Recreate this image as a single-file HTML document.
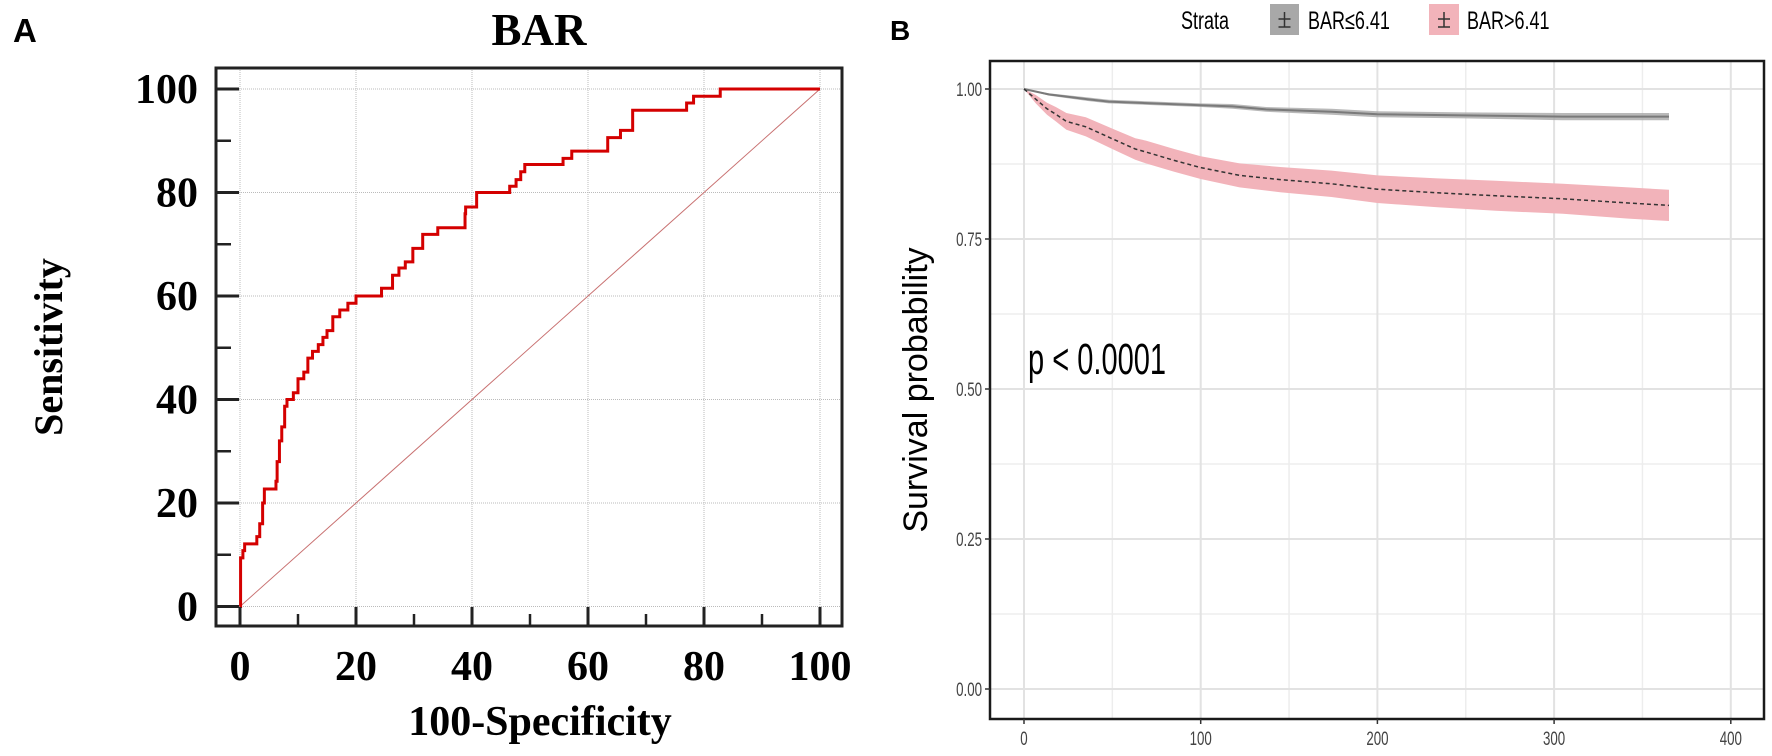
<!DOCTYPE html>
<html><head><meta charset="utf-8"><style>
html,body{margin:0;padding:0;background:#fff;}
svg{display:block;}
</style></head><body>
<svg id="fig" width="1772" height="756" viewBox="0 0 1772 756" xmlns="http://www.w3.org/2000/svg">
  <rect x="0" y="0" width="1772" height="756" fill="#fff"/>
  <text x="13" y="42" font-family="Liberation Sans, sans-serif" font-weight="bold" font-size="33">A</text>
  <text x="539" y="45" text-anchor="middle" font-family="Liberation Serif, serif" font-weight="bold" font-size="45">BAR</text>
  <g id="roc"></g>
  <text x="890" y="40" font-family="Liberation Sans, sans-serif" font-weight="bold" font-size="28">B</text>
  <g id="km"></g>
</svg>
<script>
// ROC data
const rocFpr = [0,0.1,0.5,0.8,2.9,3.4,3.9,4.2,6.2,6.4,6.8,7.2,7.7,8.1,9.2,10,11,11.7,12.5,13.5,14.3,15,16,17.2,18.6,20,24.4,26.3,27.4,28.5,29.8,31.5,34.1,38.8,38.9,40.8,46.5,47.6,48.4,49.1,55.7,57.2,63.4,65.6,67.7,77,78.2,82.8,100];
const rocTpr = [0,9.4,10.8,12.1,13.5,16,20,22.7,24.2,28,32,34.7,38.7,40,41.3,44,45.3,48,49.3,50.6,52,53.3,56,57.3,58.6,60,61.5,64,65.4,66.6,69.2,71.9,73.2,75.9,77.2,80,81.2,82.5,84,85.4,86.6,88,90.6,92,95.9,97.3,98.6,100,100];
const rocTicks = [0,20,40,60,80,100];
const rocMinor = [10,30,50,70,90];

// KM data
const grayT = [0,14,36,48,100,118,137,174,200,249,305,365];
const grayS = [1,0.991,0.983,0.979,0.973,0.971,0.966,0.962,0.958,0.956,0.954,0.954];
const grayLo = [1,0.989,0.980,0.976,0.970,0.967,0.962,0.957,0.953,0.951,0.948,0.948];
const grayHi = [1,0.993,0.986,0.982,0.976,0.975,0.970,0.967,0.963,0.961,0.960,0.960];
const pinkT = [0,6.7,13,18,24,35,50,63,69,85,100,122,145,174,200,234,267,305,342,365];
const pinkS = [1,0.983,0.967,0.958,0.946,0.937,0.917,0.9,0.895,0.881,0.869,0.856,0.849,0.842,0.833,0.827,0.822,0.817,0.81,0.806];
const pinkLo = [1,0.976,0.957,0.946,0.932,0.921,0.900,0.882,0.876,0.862,0.850,0.836,0.828,0.820,0.810,0.803,0.797,0.792,0.784,0.780];
const pinkHi = [1,0.990,0.977,0.970,0.960,0.953,0.934,0.918,0.914,0.900,0.888,0.876,0.870,0.864,0.856,0.851,0.847,0.842,0.836,0.832];
const kmXTicks = [0,100,200,300,400];
const kmXMinor = [50,150,250,350];
const kmYTicks = [0,0.25,0.5,0.75,1];
const kmYLabels = ["0.00","0.25","0.50","0.75","1.00"];
const kmYMinor = [0.125,0.375,0.625,0.875];

const NS = "http://www.w3.org/2000/svg";
function mk(parent, tag, attrs){const e=document.createElementNS(NS,tag);for(const k in attrs)e.setAttribute(k,attrs[k]);parent.appendChild(e);return e;}

// ---- ROC ----
(function(){
  const g = document.getElementById('roc');
  const X = v => 240 + v*5.8;
  const Y = v => 606.5 - v*5.175;
  rocTicks.forEach(t=>{
    const l1=mk(g,'line',{x1:X(t),x2:X(t),y1:70,y2:625,stroke:'#bbb','stroke-width':1,'stroke-dasharray':'1 1'});
    
    
    const l2=mk(g,'line',{x1:217,x2:841,y1:Y(t),y2:Y(t),stroke:'#bbb','stroke-width':1,'stroke-dasharray':'1 1'});
    
    
  });
  const diag=mk(g,'line',{x1:X(0),y1:Y(0),x2:X(100),y2:Y(100),stroke:'#c87070','stroke-width':1});
  
  
  let d='M'+X(rocFpr[0])+','+Y(rocTpr[0]);
  for(let i=1;i<rocFpr.length;i++){d+=' H'+X(rocFpr[i])+' V'+Y(rocTpr[i]);}
  const roc=mk(g,'path',{d:d,fill:'none',stroke:'#d40000','stroke-width':3});
  
  
  const fr=mk(g,'rect',{x:216,y:68,width:626,height:558,fill:'none',stroke:'#222','stroke-width':3});
  
  
  rocTicks.forEach(t=>{
    mk(g,'line',{x1:216,x2:239,y1:Y(t),y2:Y(t),stroke:'#222','stroke-width':3});
    mk(g,'line',{x1:X(t),x2:X(t),y1:626,y2:607,stroke:'#222','stroke-width':3});
    const ty=mk(g,'text',{x:198,y:Y(t)+14,'text-anchor':'end','font-family':'Liberation Serif, serif','font-weight':'bold','font-size':42});
    ty.textContent=t;
    
    
    const tx=mk(g,'text',{x:X(t),y:680,'text-anchor':'middle','font-family':'Liberation Serif, serif','font-weight':'bold','font-size':42});
    tx.textContent=t;
    
    
  });
  rocMinor.forEach(t=>{
    mk(g,'line',{x1:216,x2:231,y1:Y(t),y2:Y(t),stroke:'#222','stroke-width':2.5});
    mk(g,'line',{x1:X(t),x2:X(t),y1:626,y2:614,stroke:'#222','stroke-width':2.5});
  });
  const xt=mk(g,'text',{x:540,y:735,'text-anchor':'middle','font-family':'Liberation Serif, serif','font-weight':'bold','font-size':42});
  xt.textContent='100-Specificity';
  
  
  const yt=mk(g,'text',{x:0,y:0,transform:'translate(62,347) rotate(-90)','text-anchor':'middle','font-family':'Liberation Serif, serif','font-weight':'bold','font-size':40});
  yt.textContent='Sensitivity';
  
  
})();

// ---- KM ----
(function(){
  const g = document.getElementById('km');
  const X = v => 1024 + v*1.767;
  const Y = v => 689 - v*600;
  kmYMinor.forEach(t=>mk(g,'line',{x1:990,x2:1764,y1:Y(t),y2:Y(t),stroke:'#ededed','stroke-width':1.5}));
  kmXMinor.forEach(t=>mk(g,'line',{x1:X(t),x2:X(t),y1:61,y2:719,stroke:'#ededed','stroke-width':1.5}));
  kmYTicks.forEach(t=>{
    const l=mk(g,'line',{x1:990,x2:1764,y1:Y(t),y2:Y(t),stroke:'#e2e2e2','stroke-width':2});
    
    
  });
  kmXTicks.forEach(t=>{
    const l=mk(g,'line',{x1:X(t),x2:X(t),y1:61,y2:719,stroke:'#e2e2e2','stroke-width':2});
    
    
  });
  function pts(T,S){return T.map((t,i)=>[X(t),Y(S[i])]);}
  function band(T,lo,hi){const a=pts(T,hi),b=pts(T,lo).reverse();return 'M'+a.concat(b).map(p=>p[0].toFixed(1)+','+p[1].toFixed(1)).join(' L')+' Z';}
  function line(T,S){return 'M'+pts(T,S).map(p=>p[0].toFixed(1)+','+p[1].toFixed(1)).join(' L');}
  const gb=mk(g,'path',{d:band(grayT,grayLo,grayHi),fill:'#a8a8a8','fill-opacity':0.8});
  
  
  const pb=mk(g,'path',{d:band(pinkT,pinkLo,pinkHi),fill:'#f2b3ba'});
  
  
  const gl=mk(g,'path',{d:line(grayT,grayS),fill:'none',stroke:'#7a7a7a','stroke-width':2});
  
  
  const pl=mk(g,'path',{d:line(pinkT,pinkS),fill:'none',stroke:'#333','stroke-width':1.5,'stroke-dasharray':'4 3'});
  
  
  const fr=mk(g,'rect',{x:990,y:61,width:774,height:658,fill:'none',stroke:'#1a1a1a','stroke-width':2.5});
  
  
  kmYTicks.forEach((t,i)=>{
    mk(g,'line',{x1:985,x2:990,y1:Y(t),y2:Y(t),stroke:'#333','stroke-width':1.5});
    const tx=mk(g,'text',{x:0,y:0,transform:'translate(982,'+(Y(t)+7)+') scale(0.7,1)','text-anchor':'end','font-family':'Liberation Sans, sans-serif','font-size':19,fill:'#444'});
    tx.textContent=kmYLabels[i];
    
    
  });
  kmXTicks.forEach(t=>{
    mk(g,'line',{x1:X(t),x2:X(t),y1:719,y2:724,stroke:'#333','stroke-width':1.5});
    const tx=mk(g,'text',{x:0,y:0,transform:'translate('+X(t)+',745) scale(0.7,1)','text-anchor':'middle','font-family':'Liberation Sans, sans-serif','font-size':19,fill:'#444'});
    tx.textContent=t;
    
    
  });
  const yt=mk(g,'text',{x:0,y:0,transform:'translate(927,390) rotate(-90)','text-anchor':'middle','font-family':'Liberation Sans, sans-serif','font-size':34});
  yt.textContent='Survival probability';
  
  
  const pv=mk(g,'text',{x:0,y:0,transform:'translate(1028,374) scale(0.66,1)','font-family':'Liberation Sans, sans-serif','font-size':44});
  pv.textContent='p < 0.0001';
  
  
  // legend
  const st=mk(g,'text',{x:0,y:0,transform:'translate(1181,29) scale(0.72,1)','font-family':'Liberation Sans, sans-serif','font-size':25});
  st.textContent='Strata';
  
  
  const k1=mk(g,'rect',{x:1270,y:4,width:29,height:31,fill:'#a8a8a8'});
  
  
  const k2=mk(g,'rect',{x:1429,y:4,width:30,height:31,fill:'#f2b3ba'});
  
  
  [1284.5,1444].forEach(cx=>{
    mk(g,'line',{x1:cx-6,x2:cx+6,y1:19,y2:19,stroke:'#333','stroke-width':1.5});
    mk(g,'line',{x1:cx,x2:cx,y1:12,y2:27,stroke:'#333','stroke-width':1.5});
    mk(g,'line',{x1:cx-6,x2:cx+6,y1:27,y2:27,stroke:'#333','stroke-width':1.5});
  });
  const l1=mk(g,'text',{x:0,y:0,transform:'translate(1308,29) scale(0.72,1)','font-family':'Liberation Sans, DejaVu Sans, sans-serif','font-size':25});
  l1.textContent='BAR≤6.41';
  
  
  const l2=mk(g,'text',{x:0,y:0,transform:'translate(1467,29) scale(0.72,1)','font-family':'Liberation Sans, sans-serif','font-size':25});
  l2.textContent='BAR>6.41';
  
  
})();
</script>
</body></html>
